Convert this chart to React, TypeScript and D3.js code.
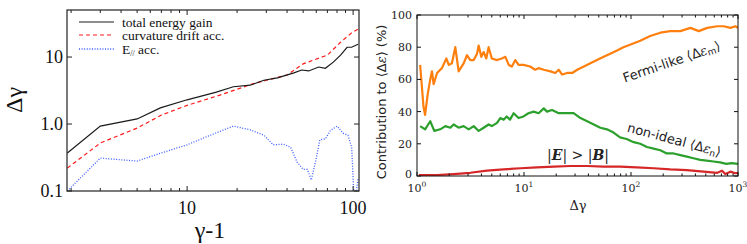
import React from "react";
import * as d3 from "d3";

// ---------- Left panel data ----------
const leftTotalX = [1.9, 3, 5, 6.9, 10, 15, 19, 24, 29, 35, 44, 49, 54, 62, 68, 76, 84, 92, 98, 107];
const leftTotalY = [0.37, 0.93, 1.19, 1.74, 2.3, 3.0, 3.6, 3.8, 4.5, 4.9, 5.8, 6.4, 6.2, 7.1, 6.8, 8.4, 10.7, 14, 14, 15.5];
const leftCurvX = [1.9, 3, 5, 7, 10, 15, 20, 25, 30, 40, 50, 70, 84, 98, 107];
const leftCurvY = [0.22, 0.52, 0.87, 1.36, 1.9, 2.6, 3.3, 4.0, 4.5, 5.4, 7.9, 10.7, 16.6, 23, 26];
const leftEparX = [1.9, 3, 5, 7, 10, 15, 19, 24, 29, 33, 38, 42, 46, 50, 53, 56, 60, 63, 68, 73, 80, 87, 93, 98, 101, 104, 107];
const leftEparY = [0.1, 0.31, 0.28, 0.37, 0.49, 0.74, 0.93, 0.82, 0.68, 0.49, 0.5, 0.45, 0.27, 0.21, 0.21, 0.146, 0.31, 0.58, 0.6, 0.8, 0.93, 0.73, 0.68, 0.45, 0.09, 0.09, 0.15];
const leftLegend = ["total energy gain", "curvature drift acc.", "acc."];
const leftXTicks = [10, 100];
const leftYTicks = [0.1, 1, 10];
const leftYTickLabels = ["0.1", "1.0", "10"];

// ---------- Right panel data ----------
const fermiX = [1.07, 1.15, 1.19, 1.26, 1.33, 1.38, 1.43, 1.54, 1.71, 1.88, 1.98, 2.12, 2.28, 2.45, 2.73, 2.93, 3.15, 3.39, 3.64, 3.77, 3.99, 4.2, 4.44, 4.67, 5.0, 5.6, 6.2, 6.7, 7.2, 7.7, 8.3, 8.9, 9.9, 11.4, 12.7, 13.7, 15.3, 17.7, 19.6, 21.1, 22.7, 25.3, 28.2, 31.4, 36.3, 41.7, 48.1, 55.5, 64, 74, 85, 102, 122, 151, 188, 233, 289, 359, 430, 516, 640, 736, 850, 943, 1000];
const fermiY = [69, 43, 38, 51, 60, 65, 57, 64, 67, 73, 69, 70, 80, 65, 70, 75, 72, 72, 76, 81, 74, 77, 73, 80, 73, 72, 73, 74, 69, 68, 72, 69, 69, 68, 66, 67, 66, 65, 64, 66, 63, 64, 64, 66, 68, 70, 72, 74, 76, 78, 80, 82, 84, 87, 89, 90, 90, 92, 90, 92, 93, 93, 92, 93, 92];
const nonIdealX = [1.07, 1.19, 1.33, 1.45, 1.65, 1.84, 2.05, 2.2, 2.45, 2.73, 3.04, 3.39, 3.77, 4.2, 4.67, 5.0, 5.6, 6.0, 6.45, 6.9, 7.4, 8.0, 8.9, 9.9, 11.0, 12.3, 13.7, 15.3, 16.4, 18.3, 21.1, 25.3, 29.1, 33.7, 38.9, 44.9, 51.7, 59.6, 68.7, 79, 91, 106, 122, 141, 163, 188, 216, 250, 289, 333, 384, 443, 510, 590, 680, 780, 870, 1000];
const nonIdealY = [31, 29, 34, 28, 29, 31, 30, 32, 30, 31, 29, 31, 28, 30, 32, 31, 33, 36, 35, 37, 35, 39, 36, 37, 39, 40, 39, 42, 40, 41, 39, 39, 39, 36, 34, 32, 30, 29, 27, 24, 23, 21, 20, 18, 17, 16, 14, 14, 13, 12, 11, 10, 9.5, 9, 8.5, 7.5, 8, 7.5];
const ebX = [1.04, 1.54, 2.2, 3.15, 4.5, 6.45, 9.3, 13.2, 19, 27, 38.9, 55.5, 79, 113, 163, 233, 333, 476, 640, 710, 760, 850, 943, 1000];
const ebY = [0.6, 0.6, 1.2, 2, 3.3, 4.1, 4.8, 5.4, 5.8, 6.2, 6.2, 5.8, 5.8, 5.4, 4.8, 4.1, 3.7, 2.7, 2, 3.3, 1.2, 2.7, 1.7, 2];
const rightYTicks = [0, 20, 40, 60, 80, 100];
const rightXTicks = [1, 10, 100, 1000];
const rightXExps = ["0", "1", "2", "3"];

const zip = (xs: number[], ys: number[]) => xs.map((x, i) => [x, ys[i]] as [number, number]);

function minorLog(lo: number, hi: number) {
  const out: number[] = [];
  for (let e = -2; e <= 4; e++) {
    for (let m = 1; m <= 9; m++) {
      const v = m * Math.pow(10, e);
      if (v >= lo * 0.999 && v <= hi * 1.001) out.push(v);
    }
  }
  return out;
}

export default function App() {
  // Left panel geometry
  const L = { x0: 67, x1: 359, y0: 10, y1: 191 };
  const lx = d3.scaleLog().domain([1.89, 108.5]).range([L.x0, L.x1]);
  const ly = d3.scaleLog().domain([0.1, 50.4]).range([L.y1, L.y0]);
  const lline = d3.line<[number, number]>().x((d) => lx(d[0])).y((d) => ly(d[1]));

  // Right panel geometry
  const R = { x0: 417, x1: 738, y0: 15, y1: 176 };
  const rx = d3.scaleLog().domain([1, 1000]).range([R.x0, R.x1]);
  const ry = d3.scaleLinear().domain([0, 100]).range([R.y1, R.y0]);
  const rline = d3.line<[number, number]>().x((d) => rx(d[0])).y((d) => ry(d[1]));

  const serif = "'Liberation Serif', 'Times New Roman', serif";
  const cm = "'DejaVu Serif', serif";
  const sans = "'DejaVu Sans', sans-serif";

  const lMinor = minorLog(2, 108).filter((v) => !leftXTicks.includes(v));
  const rMinor = minorLog(1, 1000).filter((v) => !rightXTicks.includes(v));

  return (
    <svg width={747} height={244} style={{ position: "absolute", left: 0, top: 0, background: "#fff" }}>
      <defs>
        <clipPath id="lclip">
          <rect x={L.x0} y={L.y0} width={L.x1 - L.x0} height={L.y1 - L.y0} />
        </clipPath>
        <clipPath id="rclip">
          <rect x={R.x0} y={R.y0 - 2} width={R.x1 - R.x0} height={R.y1 - R.y0 + 2} />
        </clipPath>
      </defs>

      {/* ---------------- Left panel ---------------- */}
      <g clipPath="url(#lclip)">
        <path d={lline(zip(leftEparX, leftEparY)) || ""} fill="none" stroke="#3b5bff" strokeWidth={1.3} strokeDasharray="1,1.6" />
        <path d={lline(zip(leftCurvX, leftCurvY)) || ""} fill="none" stroke="#ff1a1a" strokeWidth={1.2} strokeDasharray="4,3" />
        <path d={lline(zip(leftTotalX, leftTotalY)) || ""} fill="none" stroke="#1a1a1a" strokeWidth={1.2} />
      </g>
      <rect x={L.x0} y={L.y0} width={L.x1 - L.x0} height={L.y1 - L.y0} fill="none" stroke="#222" strokeWidth={1.2} />
      {leftXTicks.map((t) => (
        <g key={"lxt" + t}>
          <line x1={lx(t)} x2={lx(t)} y1={L.y1} y2={L.y1 - 5} stroke="#222" />
          <line x1={lx(t)} x2={lx(t)} y1={L.y0} y2={L.y0 + 5} stroke="#222" />
          <text x={lx(t)} y={214} textAnchor="middle" fontFamily={serif} fontSize={18} fill="#111">{t}</text>
        </g>
      ))}
      {lMinor.map((t) => (
        <g key={"lxm" + t}>
          <line x1={lx(t)} x2={lx(t)} y1={L.y1} y2={L.y1 - 3} stroke="#222" />
          <line x1={lx(t)} x2={lx(t)} y1={L.y0} y2={L.y0 + 3} stroke="#222" />
        </g>
      ))}
      {leftYTicks.map((t, i) => (
        <g key={"lyt" + t}>
          <line x1={L.x0} x2={L.x0 + 5} y1={ly(t)} y2={ly(t)} stroke="#222" />
          <line x1={L.x1} x2={L.x1 - 5} y1={ly(t)} y2={ly(t)} stroke="#222" />
          <text x={63} y={ly(t) + 6} textAnchor="end" fontFamily={serif} fontSize={18} fill="#111">{leftYTickLabels[i]}</text>
        </g>
      ))}
      <text x={210} y={238} textAnchor="middle" fontFamily={serif} fontSize={24} fill="#111">γ-1</text>
      <text transform="translate(22,100) rotate(-90)" textAnchor="middle" fontFamily={serif} fontSize={24} fill="#111">Δγ</text>
      {/* legend */}
      <line x1={79} x2={114} y1={22} y2={22} stroke="#1a1a1a" strokeWidth={1.2} />
      <line x1={79} x2={114} y1={35} y2={35} stroke="#ff1a1a" strokeWidth={1.2} strokeDasharray="4,3" />
      <line x1={79} x2={114} y1={49} y2={49} stroke="#3b5bff" strokeWidth={1.3} strokeDasharray="1,1.6" />
      <text x={122} y={26.5} fontFamily={serif} fontSize={13.5} fill="#111">{leftLegend[0]}</text>
      <text x={122} y={40} fontFamily={serif} fontSize={13.5} fill="#111">{leftLegend[1]}</text>
      <text x={122} y={54} fontFamily={serif} fontSize={13.5} fill="#111">
        E<tspan fontSize={8} dy={2}>//</tspan>
        <tspan dy={-2}> {leftLegend[2]}</tspan>
      </text>

      {/* ---------------- Right panel ---------------- */}
      <g clipPath="url(#rclip)">
        <path d={rline(zip(ebX, ebY)) || ""} fill="none" stroke="#d62728" strokeWidth={2.2} strokeLinejoin="round" />
        <path d={rline(zip(nonIdealX, nonIdealY)) || ""} fill="none" stroke="#2ca02c" strokeWidth={2.2} strokeLinejoin="round" />
        <path d={rline(zip(fermiX, fermiY)) || ""} fill="none" stroke="#ff7f0e" strokeWidth={2.2} strokeLinejoin="round" />
      </g>
      <rect x={R.x0} y={R.y0} width={R.x1 - R.x0} height={R.y1 - R.y0} fill="none" stroke="#111" strokeWidth={1} />
      {rightYTicks.map((t) => (
        <g key={"ryt" + t}>
          <line x1={R.x0} x2={R.x0 + 4} y1={ry(t)} y2={ry(t)} stroke="#111" />
          <line x1={R.x1} x2={R.x1 - 4} y1={ry(t)} y2={ry(t)} stroke="#111" />
          <text x={412} y={ry(t) + (t === 0 ? 2 : 4)} textAnchor="end" fontFamily={cm} fontSize={11} fill="#222">{t}</text>
        </g>
      ))}
      {rightXTicks.map((t, i) => (
        <g key={"rxt" + t}>
          <line x1={rx(t)} x2={rx(t)} y1={R.y1} y2={R.y1 - 4} stroke="#111" />
          <line x1={rx(t)} x2={rx(t)} y1={R.y0} y2={R.y0 + 4} stroke="#111" />
          <text x={rx(t)} y={192} textAnchor="middle" fontFamily={cm} fontSize={11} fill="#222">
            10<tspan fontSize={7.5} dy={-5}>{rightXExps[i]}</tspan>
          </text>
        </g>
      ))}
      {rMinor.map((t) => (
        <g key={"rxm" + t}>
          <line x1={rx(t)} x2={rx(t)} y1={R.y1} y2={R.y1 - 2.5} stroke="#111" />
          <line x1={rx(t)} x2={rx(t)} y1={R.y0} y2={R.y0 + 2.5} stroke="#111" />
        </g>
      ))}
      <text x={578} y={210} textAnchor="middle" fontFamily={cm} fontSize={13} fill="#222">Δγ</text>
      <text transform="translate(386,102) rotate(-90)" textAnchor="middle" fontFamily={sans} fontSize={13} fill="#222">
        Contribution to ⟨Δ<tspan fontFamily={cm} fontStyle="italic">ε</tspan>⟩ (%)
      </text>
      <text transform="translate(673,66) rotate(-19)" textAnchor="middle" fontFamily={sans} fontSize={13} fill="#222">
        Fermi-like ⟨Δ<tspan fontFamily={cm} fontStyle="italic">ε</tspan><tspan fontSize={9} dy={2}>m</tspan><tspan dy={-2}>⟩</tspan>
      </text>
      <text transform="translate(673,144) rotate(15)" textAnchor="middle" fontFamily={sans} fontSize={13} fill="#222">
        non-ideal ⟨Δ<tspan fontFamily={cm} fontStyle="italic">ε</tspan><tspan fontSize={9} dy={2}>n</tspan><tspan dy={-2}>⟩</tspan>
      </text>
      <text x={578} y={160} textAnchor="middle" fontFamily={cm} fontSize={14} fill="#222">
        |<tspan fontWeight="bold" fontStyle="italic">E</tspan>| &gt; |<tspan fontWeight="bold" fontStyle="italic">B</tspan>|
      </text>
    </svg>
  );
}
